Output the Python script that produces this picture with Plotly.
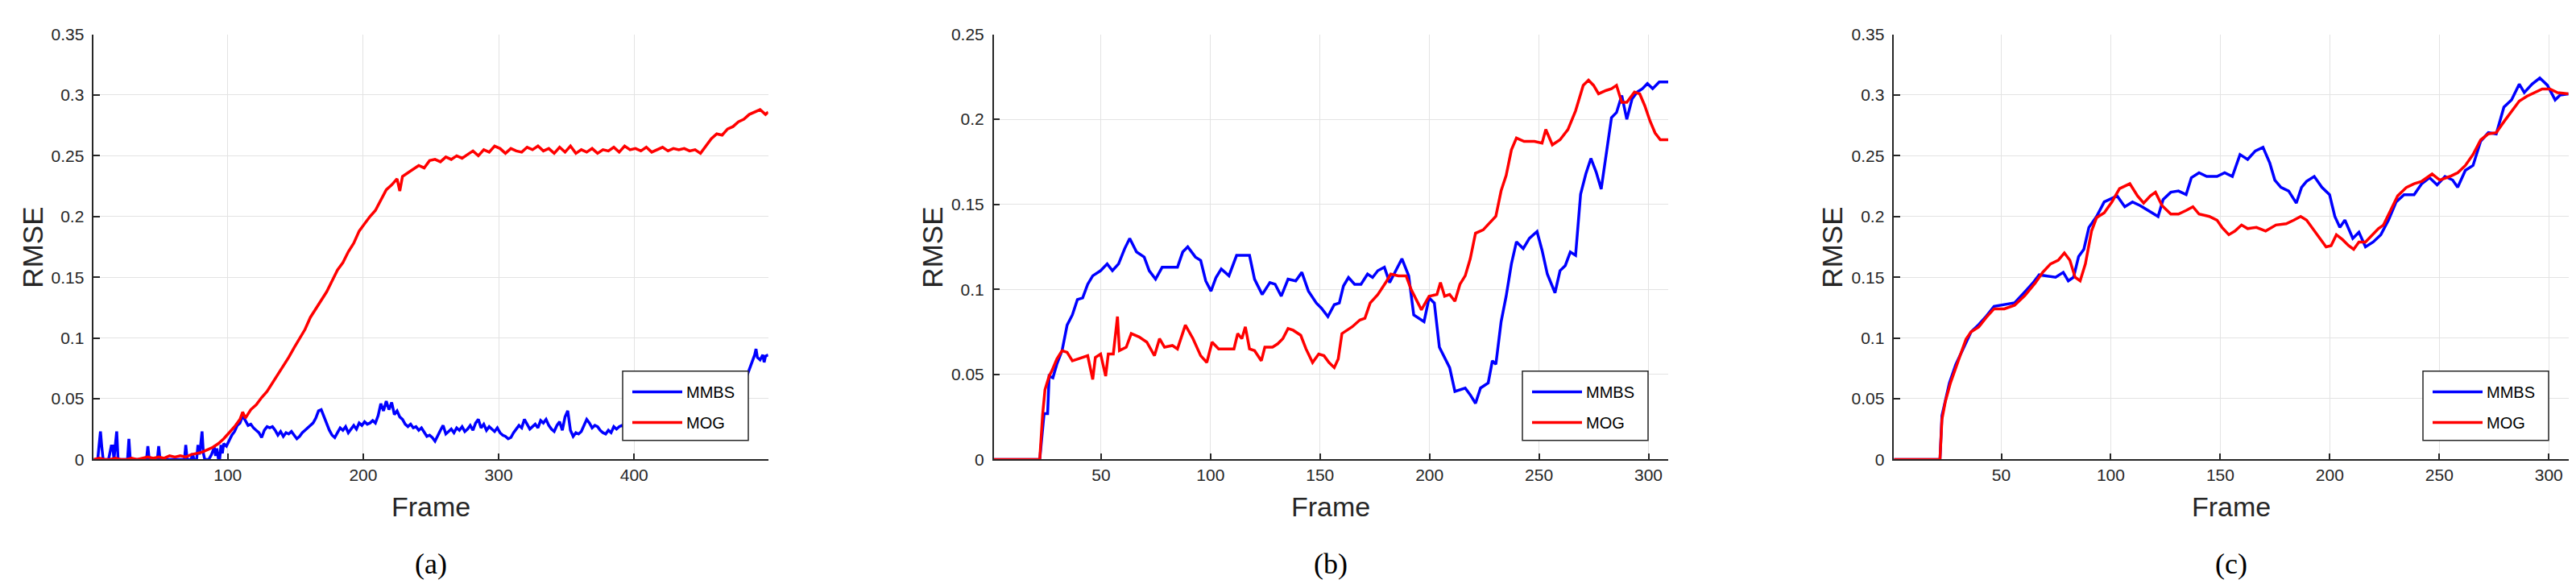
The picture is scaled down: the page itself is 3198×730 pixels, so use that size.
import plotly.graph_objects as go

# ---------------- data ----------------
# Panel (a): frame, RMSE pairs
A_MMBS = [(1,0.0),(4,0.0),(5,0.012),(6,0.023),(7,0.010),(8,0.0),(12,0.0),(14,0.011),(15,0.011),(16,0.0),
          (17,0.012),(18,0.023),(19,0.0),(23,0.0),(26,0.0),(27,0.017),(28,0.0),(35,0.0),(40,0.0),(41,0.011),
          (42,0.0),(48,0.0),(49,0.011),(50,0.0),(60,0.0),(68,0.0),(69,0.012),(70,0.0),(73,0.0),(74,0.005),
          (75,0.0),(77,0.0),(78,0.012),(79,0.004),(80,0.012),(81,0.023),(82,0.005),(83,0.0),(86,0.0),(88,0.004),
          (90,0.010),(91,0.003),(92,0.009),(93,0.001),(94,0.0),(95,0.012),(96,0.005),(97,0.013),(99,0.011),(101,0.016),
          (103,0.020),(105,0.023),(107,0.028),(109,0.030),(111,0.036),(113,0.032),(115,0.028),(117,0.029),(119,0.026),(121,0.024),
          (123,0.022),(125,0.018),(127,0.024),(129,0.027),(131,0.026),(133,0.027),(135,0.024),(137,0.020),(139,0.023),(141,0.019),
          (143,0.022),(145,0.021),(147,0.023),(149,0.020),(151,0.017),(153,0.019),(155,0.022),(157,0.024),(159,0.026),(161,0.028),
          (163,0.030),(165,0.034),(167,0.040),(169,0.041),(171,0.035),(173,0.030),(175,0.024),(177,0.020),(179,0.018),(181,0.022),
          (183,0.026),(185,0.024),(187,0.027),(189,0.022),(191,0.025),(193,0.028),(195,0.025),(197,0.030),(199,0.028),(201,0.031),
          (203,0.029),(205,0.030),(207,0.032),(209,0.030),(211,0.036),(213,0.046),(215,0.040),(217,0.048),(219,0.041),(221,0.047),
          (223,0.037),(225,0.040),(227,0.035),(229,0.033),(231,0.029),(233,0.027),(235,0.029),(237,0.026),(239,0.027),(241,0.024),
          (243,0.026),(245,0.022),(247,0.019),(249,0.020),(251,0.018),(253,0.015),(255,0.020),(257,0.024),(259,0.028),(261,0.021),
          (263,0.023),(265,0.025),(267,0.022),(269,0.026),(271,0.024),(273,0.027),(275,0.023),(277,0.025),(279,0.028),(281,0.024),
          (283,0.030),(285,0.033),(287,0.026),(289,0.029),(291,0.024),(293,0.027),(295,0.025),(297,0.023),(299,0.026),(301,0.022),
          (303,0.020),(305,0.019),(307,0.017),(309,0.018),(311,0.022),(313,0.025),(315,0.028),(317,0.026),(319,0.033),(321,0.029),
          (323,0.025),(325,0.027),(327,0.029),(329,0.026),(331,0.032),(333,0.030),(335,0.033),(337,0.028),(339,0.025),(341,0.023),
          (343,0.028),(345,0.031),(347,0.024),(349,0.035),(351,0.040),(353,0.024),(355,0.019),(357,0.022),(359,0.021),(361,0.023),
          (363,0.028),(365,0.033),(367,0.030),(369,0.026),(371,0.028),(373,0.027),(375,0.024),(377,0.022),(379,0.021),(381,0.024),
          (383,0.022),(385,0.027),(387,0.025),(389,0.027),(391,0.028),(395,0.026),(400,0.029),(405,0.027),(410,0.030),(415,0.028),
          (420,0.031),(425,0.029),(430,0.032),(435,0.030),(440,0.033),(445,0.031),(450,0.034),(455,0.036),(460,0.040),(465,0.045),
          (470,0.052),(475,0.058),(480,0.064),(483,0.068),(485,0.074),(487,0.080),(489,0.086),(490,0.091),(491,0.084),(493,0.082),
          (495,0.086),(496,0.080),(497,0.085),(499,0.086)]

A_MOG = [(1,0.000),(5,0.001),(9,0.000),(13,0.000),(17,0.001),(21,0.000),(25,0.000),(29,0.001),(33,0.000),(37,0.001),
         (41,0.002),(45,0.001),(49,0.002),(53,0.001),(57,0.003),(61,0.002),(65,0.003),(69,0.002),(73,0.004),(77,0.005),
         (81,0.006),(85,0.008),(89,0.010),(93,0.013),(97,0.017),(101,0.022),(105,0.027),(109,0.033),(111,0.039),(113,0.034),
         (117,0.041),(121,0.045),(125,0.051),(129,0.056),(133,0.063),(137,0.069),(141,0.076),(145,0.084),(149,0.092),(153,0.099),
         (157,0.107),(161,0.117),(165,0.124),(169,0.132),(173,0.138),(177,0.147),(181,0.156),(185,0.162),(189,0.171),(193,0.178),
         (197,0.188),(201,0.194),(205,0.200),(209,0.205),(213,0.214),(217,0.222),(221,0.226),(225,0.231),(227,0.221),(229,0.233),
         (233,0.236),(237,0.239),(241,0.242),(245,0.240),(249,0.246),(253,0.247),(257,0.245),(261,0.249),(265,0.247),(269,0.250),
         (273,0.248),(277,0.251),(281,0.254),(285,0.250),(289,0.255),(293,0.253),(297,0.258),(301,0.256),(305,0.252),(309,0.256),
         (313,0.254),(317,0.253),(321,0.257),(325,0.255),(329,0.258),(333,0.254),(337,0.256),(341,0.252),(345,0.257),(349,0.253),
         (353,0.258),(357,0.252),(361,0.255),(365,0.253),(369,0.256),(373,0.252),(377,0.255),(381,0.254),(385,0.257),(389,0.253),
         (393,0.258),(397,0.255),(401,0.256),(405,0.254),(409,0.257),(413,0.253),(417,0.255),(421,0.257),(425,0.254),(429,0.256),
         (433,0.255),(437,0.256),(441,0.254),(445,0.255),(449,0.252),(453,0.258),(457,0.264),(461,0.268),(465,0.267),(469,0.272),
         (473,0.274),(477,0.278),(481,0.280),(485,0.284),(489,0.286),(493,0.288),(497,0.284),(499,0.286)]

# Panel (b)
B_MMBS = [(1,0.0),(22,0.0),(24,0.027),(25.6,0.027),(26.3,0.049),(28,0.048),(29.8,0.056),(32.2,0.064),(34.5,0.079),(36.9,0.085),
          (39.2,0.094),(41.6,0.095),(43.9,0.103),(46.2,0.108),(49.8,0.111),(52.8,0.115),(55.2,0.111),(58,0.115),(60.8,0.124),(63.1,0.130),
          (66.2,0.122),(69.7,0.119),(72,0.111),(74.9,0.106),(77.9,0.113),(81.4,0.113),(84.9,0.113),(87.3,0.122),(89.6,0.125),(93.1,0.119),
          (95.5,0.117),(97.8,0.105),(100.2,0.099),(102.5,0.107),(104.9,0.112),(108.4,0.108),(111.9,0.120),(114.3,0.120),(117.8,0.120),(120.1,0.106),
          (123.6,0.097),(127.1,0.104),(129.5,0.103),(132.3,0.096),(135.4,0.106),(138.9,0.105),(141.7,0.110),(144.7,0.099),(148.3,0.092),(150.6,0.089),
          (153.6,0.084),(156.5,0.091),(158.8,0.092),(160.7,0.102),(163,0.107),(165.8,0.103),(168.7,0.103),(171.7,0.109),(174,0.107),(176.4,0.111),
          (179.4,0.113),(181.8,0.104),(184.6,0.111),(187.4,0.118),(190.5,0.108),(192.8,0.085),(195.2,0.083),(197.5,0.081),(199.8,0.095),(202.2,0.092),
          (204.5,0.066),(206.9,0.060),(209.2,0.054),(211.6,0.040),(213.9,0.041),(216.3,0.042),(218.6,0.038),(221,0.033),(223.3,0.042),(226.8,0.045),
          (228.7,0.058),(230.3,0.056),(232.7,0.081),(235,0.096),(237.4,0.115),(239.7,0.128),(242.8,0.124),(245.6,0.130),(249.1,0.134),(251.4,0.123),
          (253.8,0.109),(257.3,0.098),(259.6,0.111),(262,0.114),(264.3,0.122),(266.7,0.120),(269,0.156),(271.4,0.168),(273.7,0.177),(276.1,0.169),
          (278.4,0.159),(280.7,0.179),(283.1,0.201),(285.4,0.204),(287.8,0.214),(290.1,0.200),(292.5,0.212),(294.8,0.216),(297.2,0.218),(299.5,0.221),
          (301.9,0.218),(304.9,0.222),(309,0.222)]

B_MOG = [(1,0.0),(22,0.0),(23.3,0.026),(24.4,0.041),(26.3,0.049),(27.5,0.052),(29.8,0.059),(32.2,0.064),(34.5,0.063),(36.9,0.058),
         (39.2,0.059),(43.9,0.061),(46.2,0.047),(47.4,0.060),(49.8,0.062),(52.1,0.049),(53.3,0.062),(55.6,0.062),(57.5,0.084),(58.4,0.064),
         (61.5,0.066),(63.8,0.074),(67.4,0.072),(70.9,0.069),(74.4,0.061),(76.7,0.071),(79,0.066),(82.6,0.067),(84.9,0.065),(88.5,0.079),
         (92,0.071),(95.5,0.061),(98.3,0.057),(100.7,0.069),(103.7,0.065),(107.2,0.065),(110.7,0.065),(112.4,0.074),(114.3,0.071),(115.9,0.078),
         (117.8,0.065),(120.1,0.064),(123.2,0.058),(124.8,0.066),(128.3,0.066),(130.7,0.068),(133,0.071),(135.4,0.077),(137.7,0.076),(141.2,0.073),
         (143.6,0.065),(146.6,0.057),(149.4,0.062),(151.8,0.061),(154.1,0.057),(156.5,0.054),(158.3,0.059),(160,0.074),(162.3,0.076),(164.7,0.078),
         (168.2,0.082),(170.5,0.083),(172.9,0.092),(176.4,0.097),(180,0.104),(182.3,0.109),(185.8,0.108),(189.3,0.108),(191.6,0.100),(194,0.094),
         (196.3,0.088),(199.8,0.096),(203.4,0.097),(205,0.104),(206.9,0.096),(209.2,0.097),(211.6,0.093),(213.9,0.103),(216.3,0.108),(218.6,0.118),
         (221,0.133),(224.5,0.135),(226.8,0.138),(230.3,0.143),(232.7,0.158),(235,0.167),(237.4,0.182),(239.7,0.189),(243.2,0.187),(247.9,0.187),
         (251.4,0.186),(253.1,0.194),(256.1,0.185),(259.6,0.188),(263.2,0.194),(266.7,0.205),(270.2,0.220),(272.6,0.223),(274.9,0.220),(277.2,0.215),
         (280.7,0.217),(283.1,0.218),(285.4,0.220),(287.8,0.210),(290.1,0.210),(293.6,0.216),(296,0.215),(298.3,0.208),(300.7,0.199),(303,0.192),
         (305.4,0.188),(309,0.188)]

# Panel (c)
C_MMBS = [(1,0.0),(22,0.0),(22.9,0.036),(26.3,0.063),(29.2,0.078),(32.7,0.091),(36.2,0.105),(39.7,0.111),(43.2,0.118),(46.7,0.126),
          (50.2,0.127),(56.1,0.129),(60.8,0.138),(64.3,0.145),(67.3,0.152),(71.3,0.151),(74.8,0.150),(78.3,0.154),(80.6,0.147),(83,0.150),
          (85.3,0.167),(87.7,0.173),(90,0.191),(93.5,0.200),(97,0.212),(99.4,0.214),(102.9,0.217),(106.4,0.208),(109.9,0.212),(113.4,0.209),
          (116.9,0.205),(121.6,0.200),(123.9,0.214),(127.4,0.220),(130.9,0.221),(134.4,0.218),(136.8,0.232),(140.3,0.236),(143.8,0.233),(148.5,0.233),
          (152,0.236),(155.5,0.233),(159,0.251),(162.5,0.247),(166,0.254),(169.5,0.257),(172.6,0.244),(174.9,0.230),(177.7,0.224),(181.2,0.221),
          (184.7,0.211),(187.1,0.224),(189.4,0.229),(192.9,0.233),(196.4,0.224),(199.9,0.218),(202.3,0.200),(204.6,0.191),(206.9,0.197),(210.5,0.182),
          (213.3,0.187),(216.3,0.175),(219.8,0.179),(223.3,0.185),(226.8,0.197),(230.3,0.212),(233.9,0.218),(238.5,0.218),(242,0.227),(245.5,0.232),
          (249,0.226),(252.6,0.233),(256.1,0.230),(258.4,0.224),(261.9,0.238),(265.4,0.242),(268.9,0.262),(272.4,0.269),(276,0.268),(279.5,0.290),
          (283,0.296),(286.5,0.309),(288.8,0.302),(292.4,0.309),(295.9,0.314),(299.4,0.308),(302.9,0.296),(305.2,0.300),(309,0.301)]

C_MOG = [(1,0.0),(22,0.0),(22.9,0.033),(24.5,0.048),(26.8,0.063),(29.2,0.076),(31.5,0.087),(33.9,0.099),(36.2,0.105),(39.7,0.109),
         (43.2,0.117),(46.7,0.124),(51.4,0.124),(56.1,0.127),(60.8,0.135),(65.4,0.145),(68.9,0.154),(72.5,0.161),(76,0.164),(78.8,0.170),
         (81.3,0.164),(83.7,0.150),(86,0.147),(88.4,0.161),(91.2,0.188),(93.5,0.199),(97,0.203),(100.5,0.212),(104,0.223),(108.7,0.227),
         (112.2,0.217),(115,0.211),(118.1,0.217),(120.4,0.220),(123.4,0.209),(127.4,0.202),(130.9,0.202),(134.4,0.205),(137.5,0.208),(140.3,0.202),
         (145,0.200),(148.5,0.197),(150.8,0.191),(153.9,0.185),(156.7,0.188),(159.7,0.193),(162.5,0.190),(166.5,0.191),(170.7,0.188),(175.4,0.193),
         (180.1,0.194),(183.6,0.197),(186.7,0.200),(189.4,0.197),(192.9,0.188),(195.3,0.182),(198.3,0.175),(200.6,0.176),(203,0.185),(205.8,0.181),
         (208.6,0.176),(210.9,0.173),(213.3,0.179),(216.3,0.179),(219.3,0.185),(222.2,0.190),(224.5,0.193),(228,0.206),(231,0.217),(235,0.224),
         (238.5,0.227),(242,0.229),(246.7,0.235),(250.2,0.230),(254.9,0.233),(258.4,0.236),(261.9,0.242),(265.4,0.251),(268.9,0.263),(272.4,0.268),
         (276,0.269),(279.5,0.278),(283,0.287),(286.5,0.295),(290,0.299),(293.5,0.302),(297,0.305),(300.5,0.305),(304,0.302),(309,0.301)]

SERIES_NAMES = ["MMBS", "MOG"]
SERIES_COLORS = ["#0000FF", "#FF0000"]
CAPTIONS = ["(a)", "(b)", "(c)"]
X_RANGES = [[1, 499], [1, 309], [1, 309]]
Y_MAX = [0.35, 0.25, 0.35]
X_TICKS = [[100, 200, 300, 400], [50, 100, 150, 200, 250, 300], [50, 100, 150, 200, 250, 300]]
Y_TICKS = [[0, 0.05, 0.1, 0.15, 0.2, 0.25, 0.3, 0.35], [0, 0.05, 0.1, 0.15, 0.2, 0.25],
           [0, 0.05, 0.1, 0.15, 0.2, 0.25, 0.3, 0.35]]
Y_TICKTEXT = [["0", "0.05", "0.1", "0.15", "0.2", "0.25", "0.3", "0.35"],
              ["0", "0.05", "0.1", "0.15", "0.2", "0.25"],
              ["0", "0.05", "0.1", "0.15", "0.2", "0.25", "0.3", "0.35"]]
DATA = [(A_MMBS, A_MOG), (B_MMBS, B_MOG), (C_MMBS, C_MOG)]

# ---------------- layout (pixels) ----------------
W, H = 3198, 730
AX_LEFT = [108.3, 1225.7, 2343.3]
AX_RIGHT = [945.7, 2063.0, 3180.7]
AX_TOP, AX_BOTTOM = 23.3, 568.3
LEG_BOX_LEFT = [765, 1882, 3000]
LEG_BOX_W = 156
LEG_BOX_TOP, LEG_BOX_BOTTOM = 455, 544
LEG_LINE_INSET = 12
RMSE_X = [33, 1150, 2267]
FONT = "Liberation Sans, Arial, Helvetica, sans-serif"
SERIF = "Liberation Serif, Times New Roman, serif"
AXC = "#262626"

fig = go.Figure()
annotations = []
shapes = []
for i in range(3):
    xa = "x" if i == 0 else f"x{i+1}"
    ya = "y" if i == 0 else f"y{i+1}"
    leg = "legend" if i == 0 else f"legend{i+1}"
    for j, series in enumerate(DATA[i]):
        fx = [p[0] for p in series]
        fy = [p[1] for p in series]
        fig.add_trace(go.Scatter(x=fx, y=fy, mode="lines", name=SERIES_NAMES[j],
                                 line=dict(color=SERIES_COLORS[j], width=3.5),
                                 xaxis=xa, yaxis=ya, legend=leg, legendgroup=f"{i}{j}"))
    d0, d1 = AX_LEFT[i] / W, AX_RIGHT[i] / W
    xkey = "xaxis" if i == 0 else f"xaxis{i+1}"
    ykey = "yaxis" if i == 0 else f"yaxis{i+1}"
    fig.layout[xkey] = dict(domain=[d0, d1], range=X_RANGES[i], anchor=ya,
                            tickmode="array", tickvals=X_TICKS[i],
                            ticks="inside", ticklen=8, tickwidth=1.5, tickcolor=AXC,
                            showline=True, linecolor=AXC, linewidth=1.5,
                            showgrid=True, gridcolor="#E3E3E3", gridwidth=1.2,
                            zeroline=False, tickfont=dict(family=FONT, size=21, color=AXC))
    fig.layout[ykey] = dict(domain=[1 - AX_BOTTOM / H, 1 - AX_TOP / H],
                            range=[0, Y_MAX[i] + 1e-7], anchor=xa,
                            tickmode="array", tickvals=Y_TICKS[i], ticktext=Y_TICKTEXT[i],
                            ticks="inside", ticklen=8, tickwidth=1.5, tickcolor=AXC,
                            showline=True, linecolor=AXC, linewidth=1.5,
                            showgrid=True, gridcolor="#E3E3E3", gridwidth=1.2,
                            zeroline=False, ticklabelstandoff=6,
                            tickfont=dict(family=FONT, size=21, color=AXC))
    # legend box (drawn as a shape so its size matches), real legend inside it
    bl = LEG_BOX_LEFT[i]
    shapes.append(dict(type="rect", xref="paper", yref="paper", layer="above",
                       x0=bl / W, x1=(bl + LEG_BOX_W) / W,
                       y0=1 - LEG_BOX_BOTTOM / H, y1=1 - LEG_BOX_TOP / H,
                       fillcolor="white", line=dict(color=AXC, width=1.5)))
    fig.layout[leg] = dict(x=(bl + LEG_LINE_INSET - 5) / W, y=1 - (LEG_BOX_TOP + 6.5) / H,
                           xanchor="left", yanchor="top",
                           bgcolor="rgba(0,0,0,0)", borderwidth=0,
                           font=dict(family=FONT, size=20, color="black"),
                           itemwidth=62, tracegroupgap=9)
    cx = (AX_LEFT[i] + AX_RIGHT[i]) / 2 / W
    annotations.append(dict(text="RMSE", x=RMSE_X[i] / W, y=1 - 297 / H, xref="paper", yref="paper",
                            showarrow=False, textangle=-90, font=dict(family=FONT, size=35, color=AXC),
                            xanchor="center", yanchor="middle"))
    annotations.append(dict(text="Frame", x=cx, y=1 - 629 / H, xref="paper", yref="paper",
                            showarrow=False, font=dict(family=FONT, size=34, color=AXC),
                            xanchor="center", yanchor="middle"))
    annotations.append(dict(text=CAPTIONS[i], x=cx, y=1 - 702 / H, xref="paper", yref="paper",
                            showarrow=False, font=dict(family=SERIF, size=36, color="black"),
                            xanchor="center", yanchor="middle"))

fig.update_layout(width=W, height=H, margin=dict(l=0, r=0, t=0, b=0),
                  paper_bgcolor="white", plot_bgcolor="white",
                  annotations=annotations, shapes=shapes, showlegend=True)
fig.write_html("out.html")
